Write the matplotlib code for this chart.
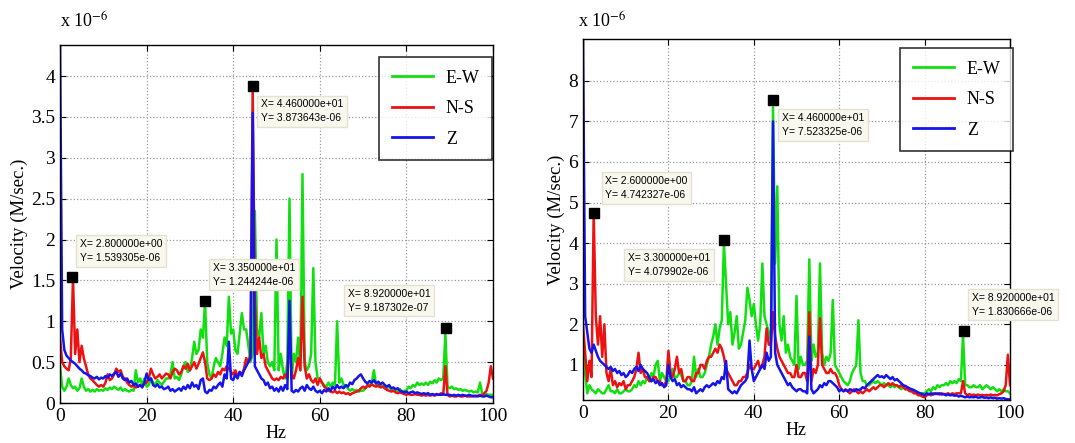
#-*- coding: utf-8 -*-
# velocity spectra, two stations, E-W / N-S / Z components
import numpy as np
import matplotlib
matplotlib.use('Agg')
import matplotlib.pyplot as plt
from matplotlib.ticker import FormatStrFormatter

plt.rcParams['font.family'] = ['Liberation Serif', 'DejaVu Serif']
plt.rcParams['mathtext.fontset'] = 'stix'

# frequency grid (Hz), 0.5 Hz step, shared by every series
hz = np.arange(0, 100.25, 0.5)

# ---- left station (values x 1e-6 m/s) ----
left_ew = [
    0.45, 0.2, 0.15, 0.2, 0.3, 0.22, 0.18, 0.2, 0.15, 0.18,
    0.3, 0.2, 0.15, 0.17, 0.14, 0.16, 0.14, 0.17, 0.15, 0.16,
    0.15, 0.18, 0.16, 0.19, 0.17, 0.2, 0.18, 0.16, 0.19, 0.15,
    0.17, 0.15, 0.14, 0.16, 0.15, 0.4, 0.25, 0.3, 0.22, 0.3,
    0.2, 0.22, 0.3, 0.25, 0.22, 0.28, 0.25, 0.22, 0.26, 0.3,
    0.3, 0.35, 0.5, 0.3, 0.32, 0.28, 0.35, 0.45, 0.5, 0.38,
    0.4, 0.55, 0.75, 0.6, 0.65, 0.9, 0.8, 1.24, 0.5, 0.35,
    0.3, 0.45, 0.55, 0.5, 0.45, 0.6, 0.8, 0.7, 1.3, 0.85,
    0.9, 0.65, 0.6, 0.85, 1.1, 0.9, 0.9, 0.7, 0.5, 0.6,
    2.35, 0.9, 0.8, 1.1, 0.6, 0.7, 0.5, 0.45, 0.5, 0.4,
    2.0, 0.4, 0.6, 0.4, 0.3, 0.5, 2.5, 0.3, 0.6, 0.5,
    0.8, 0.4, 2.8, 0.5, 0.4, 0.45, 0.6, 1.65, 0.5, 0.3,
    0.3, 0.25, 0.22, 0.2, 0.25, 0.2, 0.25, 0.22, 1.0, 0.25,
    0.3, 0.22, 0.2, 0.18, 0.15, 0.17, 0.15, 0.16, 0.14, 0.15,
    0.15, 0.18, 0.2, 0.22, 0.25, 0.4, 0.22, 0.2, 0.22, 0.2,
    0.2, 0.18, 0.2, 0.17, 0.15, 0.16, 0.15, 0.17, 0.14, 0.15,
    0.15, 0.2, 0.18, 0.22, 0.2, 0.25, 0.22, 0.24, 0.22, 0.25,
    0.22, 0.26, 0.24, 0.28, 0.25, 0.3, 0.28, 0.3, 0.85, 0.2,
    0.18, 0.2, 0.17, 0.18, 0.16, 0.17, 0.15, 0.16, 0.15, 0.14,
    0.15, 0.13, 0.14, 0.13, 0.25, 0.12, 0.1, 0.11, 0.1, 0.1,
    0.1]
left_ns = [
    0.8, 0.5, 0.45, 0.42, 0.4, 0.55, 1.54, 0.6, 0.9, 0.5,
    0.7, 0.55, 0.45, 0.35, 0.3, 0.28, 0.25, 0.22, 0.2, 0.22,
    0.2, 0.25, 0.35, 0.28, 0.3, 0.35, 0.42, 0.38, 0.4, 0.32,
    0.3, 0.25, 0.22, 0.2, 0.22, 0.19, 0.2, 0.22, 0.2, 0.24,
    0.25, 0.3, 0.42, 0.35, 0.3, 0.32, 0.35, 0.3, 0.33, 0.36,
    0.35, 0.3, 0.38, 0.42, 0.4, 0.35, 0.38, 0.45, 0.42, 0.48,
    0.4, 0.45, 0.5, 0.42, 0.48, 0.55, 0.62, 0.5, 0.3, 0.28,
    0.3, 0.35, 0.32, 0.38, 0.35, 0.42, 0.4, 0.45, 0.42, 0.38,
    0.35, 0.4, 0.33, 0.38, 0.35, 0.42, 0.55, 0.5, 0.6, 3.87,
    1.3, 0.6, 0.8, 0.55, 0.6, 0.45, 0.4, 0.35, 0.3, 0.28,
    0.3, 0.28, 0.32, 0.3, 0.35, 0.3, 0.9, 0.35, 0.3, 0.4,
    0.55, 0.4, 1.3, 0.45, 0.3, 0.35, 0.28, 0.25, 0.3, 0.22,
    0.3, 0.25, 0.2, 0.18, 0.15, 0.14, 0.13, 0.15, 0.12, 0.14,
    0.12, 0.13, 0.11, 0.12, 0.1, 0.12, 0.13, 0.14, 0.15, 0.18,
    0.2, 0.18, 0.22, 0.2, 0.23, 0.21, 0.2, 0.22, 0.19, 0.2,
    0.18, 0.16, 0.15, 0.14, 0.15, 0.13, 0.12, 0.13, 0.12, 0.11,
    0.1, 0.11, 0.1, 0.1, 0.11, 0.1, 0.1, 0.09, 0.1, 0.09,
    0.1, 0.09, 0.1, 0.09, 0.1, 0.1, 0.12, 0.1, 0.45, 0.1,
    0.08, 0.09, 0.08, 0.08, 0.09, 0.08, 0.08, 0.09, 0.08, 0.08,
    0.08, 0.09, 0.08, 0.09, 0.1, 0.09, 0.12, 0.15, 0.25, 0.45,
    0.3]
left_z = [
    4.4, 0.9, 0.65, 0.58, 0.55, 0.52, 0.5, 0.48, 0.45, 0.42,
    0.4, 0.37, 0.36, 0.34, 0.33, 0.31, 0.3, 0.32, 0.29, 0.31,
    0.3, 0.33, 0.31, 0.35, 0.33, 0.36, 0.38, 0.32, 0.36, 0.3,
    0.28, 0.3, 0.25, 0.27, 0.22, 0.24, 0.2, 0.22, 0.19, 0.25,
    0.36, 0.28, 0.3, 0.22, 0.2, 0.23, 0.19, 0.2, 0.17, 0.18,
    0.2, 0.15, 0.17, 0.14, 0.16, 0.18, 0.15, 0.2, 0.17, 0.22,
    0.18, 0.25, 0.2, 0.22, 0.17, 0.28, 0.3, 0.14, 0.12, 0.16,
    0.15, 0.2, 0.18, 0.22, 0.25, 0.2, 0.35, 0.3, 0.75, 0.3,
    0.28, 0.35, 0.3, 0.38, 0.33, 0.4, 0.45, 0.5, 0.55, 3.55,
    0.45, 0.4, 0.35, 0.3, 0.28, 0.22, 0.25, 0.18, 0.2, 0.15,
    0.18, 0.14, 0.2, 0.15, 0.22, 0.17, 1.25, 0.15, 0.13, 0.16,
    0.14, 0.18, 0.2, 0.15, 0.22, 0.18, 0.16, 0.2, 0.15, 0.13,
    0.15, 0.12, 0.16, 0.14, 0.18, 0.15, 0.2, 0.17, 0.22, 0.18,
    0.2, 0.18, 0.22, 0.2, 0.25, 0.23, 0.28, 0.3, 0.33, 0.35,
    0.3, 0.26, 0.24, 0.27, 0.25, 0.28, 0.24, 0.26, 0.23, 0.25,
    0.22, 0.2, 0.22, 0.18, 0.19, 0.17, 0.18, 0.15, 0.14, 0.13,
    0.14, 0.12, 0.13, 0.14, 0.12, 0.13, 0.12, 0.11, 0.12, 0.11,
    0.12, 0.1, 0.11, 0.1, 0.11, 0.1, 0.1, 0.11, 0.1, 0.1,
    0.1, 0.09, 0.1, 0.09, 0.1, 0.09, 0.1, 0.09, 0.09, 0.1,
    0.09, 0.08, 0.09, 0.08, 0.09, 0.08, 0.08, 0.09, 0.08, 0.07,
    0.07]

# ---- right station ----
right_ew = [
    1.4, 0.8, 0.3, 0.5, 0.4, 0.35, 0.3, 0.4, 0.35, 0.3,
    0.3, 0.4, 0.5, 0.35, 0.35, 0.3, 0.4, 0.3, 0.3, 0.35,
    0.4, 0.35, 0.35, 0.4, 0.5, 0.45, 0.6, 0.5, 0.6, 0.55,
    0.7, 0.6, 0.8, 0.7, 1.0, 1.1, 0.6, 0.8, 0.7, 0.6,
    0.6, 0.7, 0.9, 0.7, 0.7, 0.8, 0.75, 0.6, 0.6, 0.5,
    0.5, 0.6, 1.2, 0.7, 0.9, 0.7, 0.7, 0.8, 1.0, 1.2,
    1.5, 1.7, 2.0, 1.5, 1.9, 2.1, 4.0, 3.0, 2.0, 2.3,
    1.5, 1.8, 2.2, 1.4, 1.5, 1.8, 2.1, 2.9, 2.6, 2.2,
    2.5, 2.0, 1.6, 2.0, 3.5, 2.2, 2.0, 1.8, 1.6, 7.35,
    3.5, 5.4, 2.0, 1.6, 2.2, 1.3, 1.5, 1.2, 1.1, 1.0,
    2.7, 0.9, 1.2, 1.0, 1.0, 1.1, 3.6, 1.1, 1.5, 1.2,
    1.3, 3.5, 1.3, 1.0, 1.2, 1.1, 1.3, 2.6, 1.0, 0.9,
    0.8, 0.7, 0.6, 0.55, 0.5, 0.6, 0.8, 0.9, 1.0, 2.1,
    0.8, 0.6, 0.6, 0.5, 0.5, 0.55, 0.6, 0.55, 0.6, 0.55,
    0.5, 0.55, 0.5, 0.5, 0.45, 0.5, 0.45, 0.5, 0.45, 0.4,
    0.45, 0.4, 0.4, 0.38, 0.35, 0.35, 0.32, 0.3, 0.3, 0.3,
    0.3, 0.35, 0.4, 0.35, 0.45, 0.4, 0.5, 0.45, 0.5, 0.5,
    0.55, 0.5, 0.6, 0.55, 0.6, 0.55, 0.65, 0.6, 1.75, 0.5,
    0.5, 0.45, 0.45, 0.5, 0.45, 0.45, 0.5, 0.4, 0.45, 0.5,
    0.45, 0.4, 0.45, 0.4, 0.35, 0.4, 0.35, 0.4, 0.35, 0.35,
    0.3]
right_ns = [
    2.0, 1.3, 0.6, 1.1, 0.7, 4.74, 2.2, 1.5, 2.2, 1.2,
    2.0, 0.8, 0.6, 0.9, 0.5, 0.6, 0.45, 0.55, 0.5, 0.6,
    0.4, 0.5, 0.5, 0.6, 0.7, 0.9, 1.3, 0.8, 0.9, 0.7,
    0.7, 0.6, 0.6, 0.7, 0.7, 0.6, 0.6, 0.5, 0.5, 0.6,
    1.35, 0.8, 0.7, 0.9, 1.2, 0.8, 0.9, 0.6, 0.6, 0.7,
    0.7, 0.6, 0.6, 0.8, 0.8, 1.0, 1.0, 0.9, 1.1, 1.2,
    1.2, 1.3, 1.4, 1.3, 1.5, 1.4, 1.2, 0.9, 0.8, 0.7,
    0.6, 0.5, 0.5, 0.6, 0.6, 0.7, 0.7, 0.8, 1.0, 0.9,
    0.9, 1.0, 1.1, 0.9, 1.0, 1.2, 1.9, 1.5, 1.5, 2.3,
    1.7, 1.4, 1.2, 1.1, 1.0, 0.9, 0.8, 0.8, 0.7, 0.7,
    1.0, 0.7, 0.7, 0.8, 0.8, 0.6, 2.3, 0.6, 0.9, 0.8,
    1.0, 2.15, 1.0, 0.9, 0.8, 0.8, 0.9, 0.8, 0.8, 0.7,
    0.5, 0.4, 0.35, 0.4, 0.35, 0.3, 0.35, 0.4, 0.35, 0.3,
    0.35, 0.3, 0.35, 0.4, 0.35, 0.4, 0.45, 0.4, 0.45, 0.5,
    0.5, 0.45, 0.5, 0.55, 0.5, 0.55, 0.5, 0.5, 0.45, 0.5,
    0.45, 0.4, 0.4, 0.35, 0.35, 0.3, 0.3, 0.25, 0.25, 0.22,
    0.2, 0.25, 0.28, 0.25, 0.3, 0.28, 0.3, 0.27, 0.3, 0.28,
    0.28, 0.3, 0.27, 0.3, 0.28, 0.3, 0.3, 0.3, 0.6, 0.3,
    0.25, 0.28, 0.25, 0.27, 0.25, 0.27, 0.25, 0.26, 0.25, 0.26,
    0.25, 0.27, 0.25, 0.26, 0.25, 0.28, 0.3, 0.35, 0.5, 1.25,
    0.5]
right_z = [
    9.1, 2.2, 1.8, 1.4, 1.3, 1.5, 1.35, 1.2, 1.1, 1.05,
    1.0, 0.95, 0.9, 0.95, 0.85, 0.9, 0.8, 0.85, 0.75, 0.8,
    0.7, 0.75, 0.85, 0.8, 0.9, 0.95, 0.85, 1.0, 0.9, 0.85,
    0.8, 0.7, 0.6, 0.65, 0.55, 0.6, 0.5, 0.55, 0.45, 0.5,
    1.0, 0.7, 0.6, 0.65, 0.5, 0.55, 0.45, 0.5, 0.45, 0.4,
    0.4, 0.35, 0.45, 0.3, 0.35, 0.4, 0.35, 0.45, 0.5, 0.45,
    0.5, 0.55, 0.5, 0.6, 0.55, 0.7, 0.65, 1.1, 0.4, 0.35,
    0.3, 0.35, 0.3, 0.4, 0.5, 0.55, 0.6, 0.7, 1.6, 0.9,
    0.6, 0.7, 0.8, 0.9, 1.0, 0.9, 1.3, 1.1, 1.2, 7.0,
    1.3, 1.0, 0.9, 0.8, 0.7, 0.6, 0.5, 0.55, 0.45, 0.4,
    0.35, 0.4, 0.4, 0.35, 0.35, 0.3, 1.7, 0.4, 0.3, 0.35,
    0.4, 0.5, 0.45, 0.55, 0.5, 0.6, 0.6, 0.55, 0.5, 0.45,
    0.35, 0.4, 0.35, 0.38, 0.35, 0.4, 0.38, 0.35, 0.4, 0.38,
    0.4, 0.45, 0.42, 0.5, 0.55, 0.6, 0.65, 0.7, 0.75, 0.7,
    0.72, 0.68, 0.75, 0.7, 0.65, 0.7, 0.62, 0.65, 0.6, 0.55,
    0.5, 0.48, 0.45, 0.42, 0.4, 0.38, 0.35, 0.32, 0.3, 0.28,
    0.25, 0.3, 0.28, 0.3, 0.27, 0.3, 0.28, 0.3, 0.27, 0.28,
    0.25, 0.27, 0.25, 0.26, 0.24, 0.25, 0.22, 0.24, 0.22, 0.2,
    0.22, 0.2, 0.21, 0.2, 0.22, 0.19, 0.2, 0.21, 0.19, 0.2,
    0.18, 0.2, 0.18, 0.19, 0.17, 0.18, 0.17, 0.18, 0.16, 0.15,
    0.15]

# data tips (Hz, x 1e-6 m/s)
left_tip_hz = [2.8, 33.5, 44.6, 89.2]
left_tip_val = [1.539305, 1.244244, 3.873643, 0.9187302]
right_tip_hz = [2.6, 33.0, 44.6, 89.2]
right_tip_val = [4.742327, 4.079902, 7.523325, 1.830666]

labels = ['E-W', 'N-S', 'Z']
colors = ['#10e010', '#ec1212', '#1414ec']

fig = plt.figure(figsize=(10.75, 4.43), dpi=100)
ax1 = fig.add_axes([60/1075, 1-403/443, 433/1075, 358/443])
ax2 = fig.add_axes([583/1075, 1-400/443, 427/1075, 361/443])

panels = [
    (ax1, [left_ew, left_ns, left_z], (0, 4.38), np.arange(0, 4.01, 0.5),
     left_tip_hz, left_tip_val, [(4.6, 1.86), (35.3, 1.57), (46.4, 3.57), (66.5, 1.25)],
     (379, 57), 60),
    (ax2, [right_ew, right_ns, right_z], (0.135, 9.03), np.arange(1, 8.01, 1),
     right_tip_hz, right_tip_val, [(5.2, 5.36), (10.5, 3.46), (46.6, 6.91), (91.1, 2.48)],
     (900, 48), 578),
]

for ax, series, ylim, yt, tx, ty, tpos, legpos, x10 in panels:
    for vals, lab, c in zip(series, labels, colors):
        ax.plot(hz, vals, color=c, lw=1.8, label=lab)
    ax.set_xlim(0, 100)
    ax.set_ylim(*ylim)
    ax.set_xticks(np.arange(0, 101, 20))
    ax.set_yticks(yt)
    ax.yaxis.set_major_formatter(FormatStrFormatter('%g'))
    ax.grid(True, color='#999999', linestyle=':', linewidth=0.9)
    ax.tick_params(direction='in', labelsize=14, length=4, top=True, right=True)
    for s in ax.spines.values():
        s.set_linewidth(1.0)
    ax.set_xlabel('Hz', fontsize=13, labelpad=0)
    ax.set_ylabel('Velocity (M/sec.)', fontsize=13.5, labelpad=2)

    # data tips
    ax.plot(tx, ty, 's', color='black', ms=6.5, zorder=6)
    for x, y, (px, py) in zip(tx, ty, tpos):
        ax.text(px, py, 'X= %.6e\nY= %.6e' % (x, y * 1e-6), fontsize=7.5,
                family='Liberation Sans', ha='left', va='center', linespacing=1.5,
                zorder=7, clip_on=False,
                bbox=dict(boxstyle='square,pad=0.35', fc='#f9f8ef', ec='#e4e1d2', lw=1))

    lx, ly = legpos
    leg = ax.legend(loc='upper left', fontsize=13, frameon=True, fancybox=False,
                    handlelength=2.3, labelspacing=0.75, borderpad=0.7,
                    borderaxespad=0, handletextpad=0.7,
                    bbox_to_anchor=(lx/1075, 1-ly/443), bbox_transform=fig.transFigure)
    leg.get_frame().set_edgecolor('black')
    leg.get_frame().set_linewidth(1.2)
    for ln in leg.get_lines():
        ln.set_linewidth(2.0)

    fig.text(x10/1075, 1-32/443, r'x 10$^{-6}$', fontsize=13, ha='left', va='bottom')

fig.savefig('out.png', dpi=100)
